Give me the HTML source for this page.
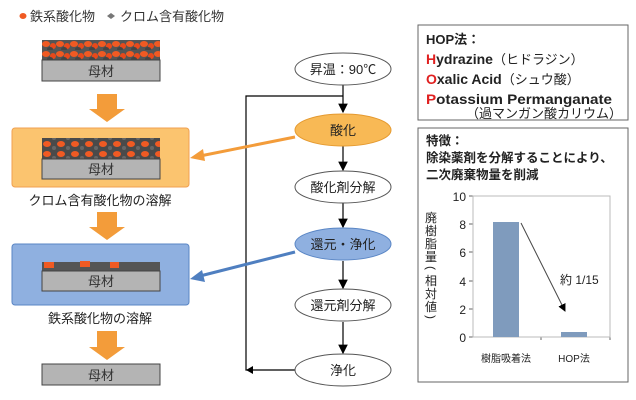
<!DOCTYPE html><html><head><meta charset="utf-8"><style>
body{margin:0;width:636px;height:400px;background:#fff;font-family:"Liberation Sans","Noto Sans CJK JP",sans-serif;overflow:hidden;position:relative}
.a{position:absolute}
</style></head><body>
<svg class="a" style="left:0;top:0" width="636" height="400" viewBox="0 0 636 400" font-family="Liberation Sans, Noto Sans CJK JP, sans-serif">
<defs>
<pattern id="ox" width="14" height="10" patternUnits="userSpaceOnUse">
<rect width="14" height="10" fill="#555"/>
<ellipse cx="4" cy="4" rx="4" ry="3" fill="#f05a23"/><ellipse cx="11" cy="6" rx="3" ry="3" fill="#e8491b"/><ellipse cx="8" cy="9" rx="3" ry="2" fill="#444"/>
</pattern>
<pattern id="ox2" width="14" height="10" patternUnits="userSpaceOnUse">
<rect width="14" height="10" fill="#4a4a4a"/>
<ellipse cx="5" cy="4" rx="4" ry="3" fill="#f05a23"/><ellipse cx="12" cy="8" rx="2" ry="2" fill="#666"/>
</pattern>
<marker id="ar" markerWidth="8" markerHeight="8" refX="7" refY="4" orient="auto"><path d="M0,0L8,4L0,8z" fill="#000"/></marker>
</defs>
<ellipse cx="23" cy="16" rx="3.5" ry="3" fill="#f05a23"/>
<text x="30" y="21" font-size="13" fill="#333">鉄系酸化物</text>
<path d="M107,16l4,-3l4,3l-4,3z" fill="#777"/>
<text x="120" y="21" font-size="13" fill="#333">クロム含有酸化物</text>
<rect x="42" y="40" width="118" height="21" fill="url(#ox)"/>
<rect x="42" y="60" width="118" height="21" fill="#b4b4b4" stroke="#444"/>
<text x="101" y="76" font-size="13" text-anchor="middle" fill="#333">母材</text>
<path d="M97,94h20v15h8l-18,13l-18,-13h8z" fill="#f39c3a"/>
<rect x="12" y="128" width="177" height="59" rx="3" fill="#fbc46f" stroke="#f0a050"/>
<rect x="42" y="138" width="118" height="22" fill="url(#ox2)"/>
<rect x="42" y="159" width="118" height="20" fill="#b4b4b4" stroke="#444"/>
<text x="101" y="174" font-size="13" text-anchor="middle" fill="#333">母材</text>
<text x="100" y="205" font-size="13" text-anchor="middle" fill="#222">クロム含有酸化物の溶解</text>
<path d="M97,212h20v15h8l-18,13l-18,-13h8z" fill="#f39c3a"/>
<rect x="12" y="244" width="177" height="61" rx="3" fill="#8fb0e0" stroke="#5a86c5"/>
<rect x="42" y="262" width="118" height="10" fill="#555"/>
<rect x="44" y="262" width="10" height="6" fill="#f05a23"/><rect x="80" y="261" width="10" height="6" fill="#f05a23"/><rect x="110" y="262" width="9" height="6" fill="#f05a23"/>
<rect x="42" y="271" width="118" height="20" fill="#b4b4b4" stroke="#444"/>
<text x="101" y="286" font-size="13" text-anchor="middle" fill="#333">母材</text>
<text x="100" y="323" font-size="13" text-anchor="middle" fill="#222">鉄系酸化物の溶解</text>
<path d="M97,331h20v16h8l-18,13l-18,-13h8z" fill="#f39c3a"/>
<rect x="42" y="364" width="118" height="21" fill="#b4b4b4" stroke="#444"/>
<text x="101" y="380" font-size="13" text-anchor="middle" fill="#333">母材</text>
<g stroke="#000" stroke-width="1.2" fill="none">
<path d="M343,85V112" marker-end="url(#ar)"/>
<path d="M343,146V170" marker-end="url(#ar)"/>
<path d="M343,203V227" marker-end="url(#ar)"/>
<path d="M343,261V288" marker-end="url(#ar)"/>
<path d="M343,322V353" marker-end="url(#ar)"/>
<path d="M295,370H246V96H343"/>
</g>
<path d="M246,370l7,-4v8z" fill="#000"/>
<g stroke="#555" stroke-width="1">
<ellipse cx="343" cy="69" rx="48" ry="16" fill="#fff"/>
<ellipse cx="343" cy="130" rx="48" ry="16" fill="#f8b955" stroke="#e59a30"/>
<ellipse cx="343" cy="187" rx="48" ry="16" fill="#fff"/>
<ellipse cx="343" cy="244" rx="48" ry="16" fill="#8fb0e0" stroke="#5a86c5"/>
<ellipse cx="343" cy="305" rx="48" ry="16" fill="#fff"/>
<ellipse cx="343" cy="370" rx="48" ry="16" fill="#fff"/>
</g>
<g font-size="13" text-anchor="middle" fill="#222">
<text x="343" y="74">昇温：90℃</text>
<text x="343" y="135">酸化</text>
<text x="343" y="192">酸化剤分解</text>
<text x="343" y="249">還元・浄化</text>
<text x="343" y="310">還元剤分解</text>
<text x="343" y="375">浄化</text>
</g>
<path d="M295,137L200,156" stroke="#f39c3a" stroke-width="3"/>
<path d="M190,158l13,-9l2,12z" fill="#f39c3a"/>
<path d="M295,252L200,276" stroke="#4f7fc0" stroke-width="3"/>
<path d="M190,279l12,-9l3,12z" fill="#4f7fc0"/>
<rect x="418" y="25" width="210" height="95" fill="#fff" stroke="#666"/>
<text x="426" y="44" font-size="13" font-weight="bold" fill="#222">HOP法：</text>
<text x="426" y="64" font-size="14" font-weight="bold" fill="#222"><tspan fill="#e02020">H</tspan>ydrazine<tspan font-weight="normal" font-size="13">（ヒドラジン）</tspan></text>
<text x="426" y="84" font-size="14" font-weight="bold" fill="#222"><tspan fill="#e02020">O</tspan>xalic Acid<tspan font-weight="normal" font-size="13">（シュウ酸）</tspan></text>
<text x="426" y="104" font-size="14" font-weight="bold" fill="#222" textLength="186" lengthAdjust="spacingAndGlyphs"><tspan fill="#e02020">P</tspan>otassium Permanganate</text>
<text x="622" y="118" font-size="13" text-anchor="end" fill="#222">（過マンガン酸カリウム）</text>
<rect x="418" y="128" width="210" height="254" fill="#fff" stroke="#666"/>
<g font-size="12.5" font-weight="bold" fill="#222">
<text x="426" y="145">特徴：</text>
<text x="426" y="162">除染薬剤を分解することにより、</text>
<text x="426" y="179">二次廃棄物量を削減</text>
</g>
<g stroke="#666" stroke-width="1" fill="none">
<path d="M473,196V337H610"/>
<path d="M469,196h4M469,224h4M469,252h4M469,281h4M469,309h4M469,337h4M541,337v3M610,337v3"/>
<rect x="473" y="196" width="137" height="141" stroke="#bbb"/>
</g>
<rect x="493" y="222" width="26" height="115" fill="#7f9bbd"/>
<rect x="561" y="332" width="26" height="5" fill="#7f9bbd"/>
<g font-size="12" text-anchor="end" fill="#222">
<text x="466" y="201">10</text><text x="466" y="229">8</text><text x="466" y="257">6</text><text x="466" y="286">4</text><text x="466" y="314">2</text><text x="466" y="342">0</text>
</g>
<g font-size="12" fill="#222" text-anchor="middle">
<text x="431" y="222">廃</text><text x="431" y="235">樹</text><text x="431" y="248">脂</text><text x="431" y="261">量</text>
<text x="431" y="272" transform="rotate(90 431 268)">(</text>
<text x="431" y="285">相</text><text x="431" y="298">対</text><text x="431" y="311">値</text>
<text x="431" y="321" transform="rotate(90 431 317)">)</text>
</g>
<path d="M521,223L565,311" stroke="#444" marker-end="url(#ar)"/>
<text x="560" y="284" font-size="12" fill="#222">約 1/15</text>
<text x="506" y="362" font-size="10" text-anchor="middle" fill="#222">樹脂吸着法</text>
<text x="574" y="362" font-size="10" text-anchor="middle" fill="#222">HOP法</text>
</svg>
</body></html>
